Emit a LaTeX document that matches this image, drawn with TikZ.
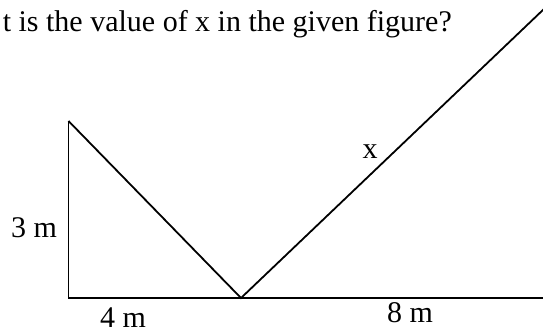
\documentclass[tikz,border=0pt]{standalone}
\usepackage{fontspec}
\setmainfont{Liberation Serif}
\begin{document}
\begin{tikzpicture}[x=1pt,y=1pt,
  lbl/.style={inner sep=0pt,font=\fontsize{30}{36}\selectfont},
  edge/.style={line width=1.8pt,line join=miter}]
\useasboundingbox (0,0) rectangle (543,332);
\coordinate (A) at (68.5,211);
\coordinate (B) at (68.5,34);
\coordinate (V) at (241,34);
\coordinate (R) at (545,34);
\coordinate (T) at (545,324);
\draw[edge] (A) -- (B) -- (R);
\draw[edge] (A) -- (V) -- (T);
\node[lbl,anchor=base east] (title) at (452,300) {t is the value of x in the given figure?};
\node[lbl,anchor=base west] (three) at (11,95) {3 m};
\node[lbl,anchor=base west] (four) at (100,5) {4 m};
\node[lbl,anchor=base west] (eight) at (387,10) {8 m};
\node[lbl,anchor=base] (x) at (370,173) {x};
\end{tikzpicture}
\end{document}
